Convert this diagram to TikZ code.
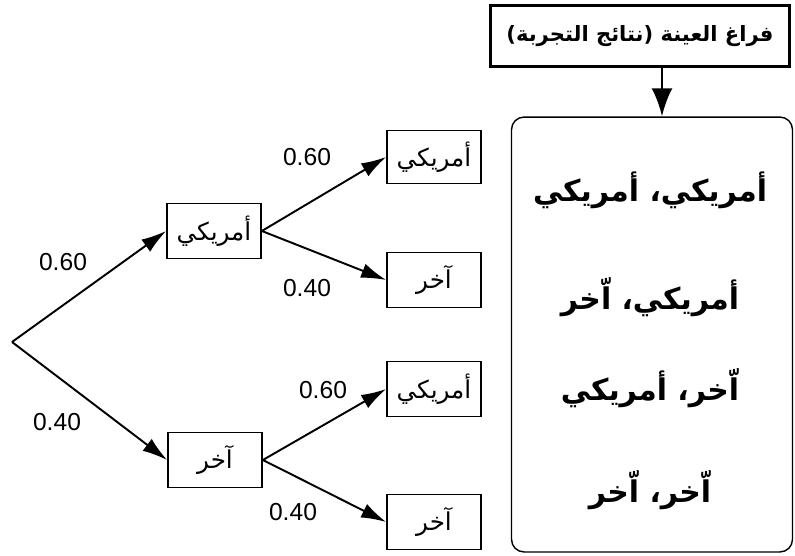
\documentclass[tikz,border=0pt]{standalone}
\usepackage{fontspec}
\setmainfont{Liberation Sans}
\newfontfamily\arabicfont[Script=Arabic]{DejaVu Sans}
\TeXXeTstate=1
\usetikzlibrary{arrows.meta,positioning}

\begin{document}
\begin{tikzpicture}[x=0.02cm, y=-0.02cm, >={Latex[length=0.5cm,width=0.3cm]},
    outcome/.style={rectangle, draw, line width=1pt, minimum width=1.88cm, minimum height=1.1cm, inner sep=0pt, font=\arabicfont\fontsize{14}{16}\selectfont},
    prob/.style={font=\fontsize{14}{16}\selectfont},
    pair/.style={font=\arabicfont\bfseries\fontsize{17}{20}\selectfont}]
    \useasboundingbox (0,0) rectangle (795,555);
    % tree
    \coordinate (root) at (12,342);
    \node[outcome] (us) at (214,231) {\beginR أمريكي\endR};
    \node[outcome] (ot) at (215,460) {\beginR آخر\endR};
    \node[outcome, minimum height=1.06cm] (usus) at (434,157) {\beginR أمريكي\endR};
    \node[outcome] (usot) at (434,280) {\beginR آخر\endR};
    \node[outcome] (otus) at (434,389) {\beginR أمريكي\endR};
    \node[outcome] (otot) at (434,522) {\beginR آخر\endR};
    \draw[->, line width=1.1pt] (root) -- (us.west);
    \draw[->, line width=1.1pt] (root) -- (ot.west);
    \draw[->, line width=1.1pt] (us.east) -- (usus.west);
    \draw[->, line width=1.1pt] (us.east) -- (usot.west);
    \draw[->, line width=1.1pt] (ot.east) -- (otus.west);
    \draw[->, line width=1.1pt] (ot.east) -- (otot.west);
    \node[prob] (p1) at (63,262) {0.60};
    \node[prob] (p2) at (57,422) {0.40};
    \node[prob] (p3) at (307,157) {0.60};
    \node[prob] (p4) at (307,288) {0.40};
    \node[prob] (p5) at (323,390) {0.60};
    \node[prob] (p6) at (293,512) {0.40};
    % sample space
    \node[rectangle, draw, line width=1.4pt, minimum width=5.98cm, minimum height=1.22cm, inner sep=1pt, font=\arabicfont\bfseries\fontsize{12}{14}\selectfont] (sample) at (640,36) {\beginR فراغ العينة (نتائج التجربة)\endR};
    \node[rectangle, draw, line width=0.8pt, rounded corners=0.25cm, minimum width=5.62cm, minimum height=8.7cm] (space) at (652,334.5) {};
    \node[pair] (s1) at (650,190) {\beginR أمريكي، أمريكي\endR};
    \node[pair] (s2) at (650,297) {\beginR أمريكي، اّخر\endR};
    \node[pair] (s3) at (650,388) {\beginR اّخر، أمريكي\endR};
    \node[pair] (s4) at (650,490) {\beginR اّخر، اّخر\endR};
    \draw[->, line width=1.7pt, >={Latex[length=0.56cm,width=0.42cm]}] ([xshift=0.44cm]sample.south) -- ([xshift=0.44cm]sample.south |- space.north);
\end{tikzpicture}
\end{document}
